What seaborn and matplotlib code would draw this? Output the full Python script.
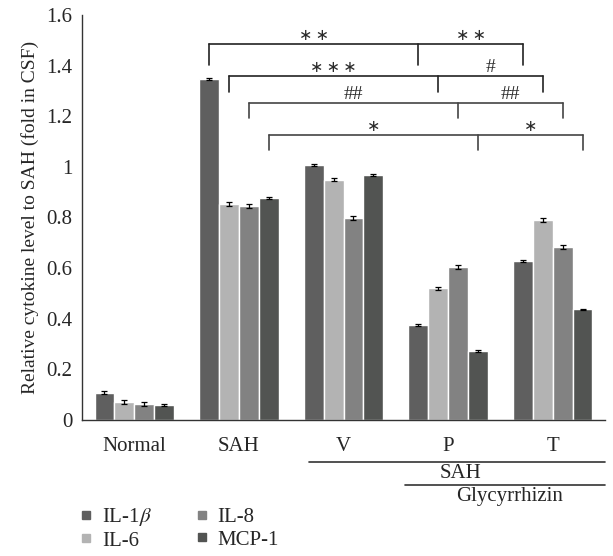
"""
Cytokine levels in CSF relative to SAH, grouped bar chart with significance brackets
"""
import numpy as np
import pandas as pd
import matplotlib
matplotlib.use('Agg')
import matplotlib.pyplot as plt
from matplotlib.lines import Line2D
import seaborn as sns

# data
groups = ['Normal', 'SAH', 'V', 'P', 'T']
cytokines = ['IL-1$\\beta$', 'IL-6', 'IL-8', 'MCP-1']
il1b = [0.108, 1.349, 1.008, 0.375, 0.628]
il6 = [0.071, 0.854, 0.949, 0.520, 0.790]
il8 = [0.064, 0.846, 0.797, 0.603, 0.683]
mcp1 = [0.059, 0.877, 0.967, 0.272, 0.437]
il1b_err = [0.006, 0.004, 0.005, 0.005, 0.004]
il6_err = [0.008, 0.007, 0.006, 0.007, 0.007]
il8_err = [0.008, 0.008, 0.007, 0.008, 0.008]
mcp1_err = [0.004, 0.004, 0.003, 0.004, 0.003]
colors = ['#5f5f5f', '#b3b3b3', '#828282', '#525452']

# significance brackets: SAH vs P (left half) and P vs T (right half), one per cytokine
bracket_top = [1.486, 1.360, 1.253, 1.126]
bracket_drop = [0.083, 0.064, 0.059, 0.059]
bracket_labels = [('∗\u2009∗', '∗\u2009∗'), ('∗\u2009∗\u2009∗', '#'), ('##', '##'), ('∗', '∗')]

values = [il1b, il6, il8, mcp1]
errors = [il1b_err, il6_err, il8_err, mcp1_err]
rows = []
for c, vals in zip(cytokines, values):
    for g, v in zip(groups, vals):
        rows.append({'group': g, 'cytokine': c, 'value': v})
df = pd.DataFrame(rows)

sns.set_style('white')
plt.rcParams['font.family'] = ['Liberation Serif', 'DejaVu Serif']
plt.rcParams['mathtext.fontset'] = 'stix'

fig = plt.figure(figsize=(6.13, 5.56), dpi=100)
ax = fig.add_axes([82 / 613, 1 - 420 / 556, 523 / 613, 405 / 556])

sns.barplot(data=df, x='group', y='value', hue='cytokine', palette=colors,
            width=0.76, errorbar=None, saturation=1, legend=False, ax=ax)

# error bars on the bars seaborn drew (patches come hue by hue)
bars = ax.patches[:len(groups) * len(cytokines)]
centers = np.array([b.get_x() + b.get_width() / 2 for b in bars]).reshape(len(cytokines), len(groups))
heights = np.array([b.get_height() for b in bars]).reshape(len(cytokines), len(groups))
ax.errorbar(centers.ravel(), heights.ravel(), yerr=np.array(errors).ravel(),
            fmt='none', ecolor='black', elinewidth=0.9, capsize=2, capthick=0.9)


def mark(x, y, s):
    # hashes in the serif face, stars from DejaVu (centred asterisk)
    if '#' in s:
        ax.text(x, y, s, ha='center', va='center', fontsize=14, color='#2a2a2a')
    else:
        ax.text(x, y, s, ha='center', va='center', fontsize=11.5, color='#2a2a2a',
                family=['DejaVu Sans'])


# brackets
for k in range(len(cytokines)):
    x0, x1, x2 = centers[k, 1], centers[k, 3], centers[k, 4]
    top = bracket_top[k]
    bot = top - bracket_drop[k]
    lc = '#222222' if k < 2 else '#444444'
    ax.plot([x0, x2], [top, top], color=lc, lw=1.2, clip_on=False)
    for xx in (x0, x1, x2):
        ax.plot([xx, xx], [top, bot], color=lc, lw=1.2, clip_on=False)
    left, right = bracket_labels[k]
    mark((x0 + x1) / 2, top + 0.032, left)
    mark((x1 + x2) / 2, top + 0.032, right)

ax.set_xlim(-0.5, len(groups) - 0.5)
ax.set_ylim(0, 1.6)
ax.set_yticks(np.arange(0, 1.61, 0.2))
ax.set_yticklabels(['%g' % round(t, 1) for t in np.arange(0, 1.61, 0.2)])
ax.set_xticks(np.arange(-0.5, len(groups), 1.0), minor=True)
ax.tick_params(axis='x', which='major', length=0, labelsize=15, pad=12)
ax.tick_params(axis='x', which='minor', length=5, width=1, direction='inout', color='#333333')
ax.tick_params(axis='y', length=4, width=1, direction='out', color='#333333', labelsize=15, pad=3)
ax.set_xlabel('')
ax.set_ylabel('Relative cytokine level to SAH (fold in CSF)', fontsize=14, labelpad=5)
for s in ['top', 'right']:
    ax.spines[s].set_visible(False)
for s in ['left', 'bottom']:
    ax.spines[s].set_color('#333333')
    ax.spines[s].set_linewidth(1.0)

# SAH / Glycyrrhizin annotation under the axis
trans = ax.get_xaxis_transform()
ax.plot([1.67, 4.5], [-0.104, -0.104], color='#333333', lw=1.2, transform=trans, clip_on=False)
ax.text(3.12, -0.131, 'SAH', ha='center', va='center', fontsize=15, transform=trans)
ax.plot([2.59, 4.5], [-0.160, -0.160], color='#333333', lw=1.2, transform=trans, clip_on=False)
ax.text(3.59, -0.188, 'Glycyrrhizin', ha='center', va='center', fontsize=15, transform=trans)

# legend below the plot
handles = [Line2D([], [], marker='s', linestyle='none', markersize=6, color=c) for c in colors]
fig.legend(handles, cytokines, loc='upper left', bbox_to_anchor=(78 / 613, 1 - 506 / 556),
           ncol=2, frameon=False, fontsize=15, handlelength=0.8, handletextpad=0.35,
           columnspacing=2.0, labelspacing=0.15, borderaxespad=0, borderpad=0)

fig.savefig('out.png', dpi=100)
